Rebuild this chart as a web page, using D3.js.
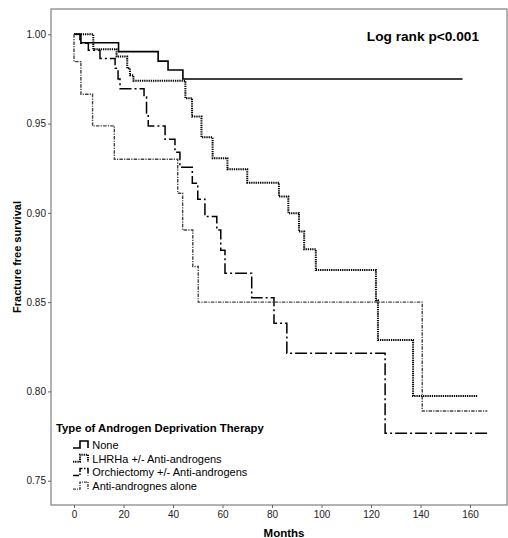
<!DOCTYPE html>
<html>
<head>
<meta charset="utf-8">
<script src="https://cdn.jsdelivr.net/npm/d3@7"></script>
<style>
  body { margin: 0; background: #fff; }
  svg text { font-family: "Liberation Sans", Arial, sans-serif; }
</style>
</head>
<body>
<div id="scene"></div>
<script>
// groups as in the legend (typo kept from the original)
var groups = ["None", "LHRHa +/- Anti-androgens", "Orchiectomy +/- Anti-androgens", "Anti-andrognes alone"];

// step curves: time (months) and survival from that time onward
var noneTimes = [0, 2.8, 18, 34, 38, 44, 157];
var noneSurv  = [1, 0.9953, 0.9903, 0.985, 0.980, 0.975, 0.975];

var lhrhTimes = [0, 7.8, 17.2, 21.5, 22.6, 24, 45, 47.7, 51.5, 56, 62, 70, 82.8, 86.6, 90.9, 93, 97.7, 122, 122.8, 137, 163];
var lhrhSurv  = [1, 0.9916, 0.9875, 0.981, 0.977, 0.974, 0.9642, 0.9539, 0.9423, 0.9306, 0.9244, 0.9169, 0.9091, 0.8998, 0.8895, 0.8796, 0.868, 0.851, 0.8288, 0.7975, 0.7975];

var orchTimes = [0, 2.4, 5.8, 10.5, 16.6, 17.8, 18.6, 28.3, 29.3, 30, 36.8, 40.8, 42.8, 47.8, 50, 52.9, 57.7, 59.3, 61, 71.8, 80.8, 86, 125.7, 167];
var orchSurv  = [1, 0.995, 0.991, 0.9865, 0.981, 0.975, 0.9695, 0.965, 0.955, 0.9487, 0.9412, 0.934, 0.9255, 0.9166, 0.9076, 0.8979, 0.8904, 0.879, 0.8662, 0.8525, 0.8382, 0.8214, 0.7766, 0.7766];

var antiTimes = [0, 0, 2.8, 7.5, 16.3, 41.9, 43.9, 48, 50.2, 140.7, 167];
var antiSurv  = [1, 0.9847, 0.9664, 0.9487, 0.930, 0.911, 0.8904, 0.870, 0.85, 0.789, 0.789];

var xTicks = [0, 20, 40, 60, 80, 100, 120, 140, 160];
var yTicks = [0.75, 0.80, 0.85, 0.90, 0.95, 1.00];

var ctx = {
  w: 508,
  h: 538,
  left: 51,
  right: 507,
  top: 9,
  bottom: 505
};

var styles = [
  { dash: null, legendDash: null, color: "#000", width: 1.6 },
  { dash: "1.3,0.9", legendDash: "1.3,0.9", color: "#000", width: 2 },
  { dash: "12,3,2,3", legendDash: "6,1.5,1.5,1.5", color: "#000", width: 1.5 },
  { dash: "3.5,1.2,1.2,1.2", legendDash: "3,1,1,1", color: "#444", width: 1.4 }
];

var series = [
  { times: noneTimes, surv: noneSurv },
  { times: lhrhTimes, surv: lhrhSurv },
  { times: orchTimes, surv: orchSurv },
  { times: antiTimes, surv: antiSurv }
];

var svg = d3.select("#scene").append("svg")
  .attr("width", ctx.w)
  .attr("height", ctx.h);

var x = d3.scaleLinear().domain([0, 160]).range([74, 470]);
var y = d3.scaleLinear().domain([0.75, 1.0]).range([480.7, 34.3]);

// frame
svg.append("rect")
  .attr("x", ctx.left).attr("y", ctx.top)
  .attr("width", ctx.right - ctx.left).attr("height", ctx.bottom - ctx.top)
  .style("fill", "none").style("stroke", "#8a8a8a").style("stroke-width", 1.3);

var yAxis = svg.append("g")
  .attr("transform", "translate(" + ctx.left + ",0)")
  .call(d3.axisLeft(y).tickValues(yTicks).tickFormat(d3.format(".2f")).tickSize(3).tickPadding(2));
var xAxis = svg.append("g")
  .attr("transform", "translate(0," + ctx.bottom + ")")
  .call(d3.axisBottom(x).tickValues(xTicks).tickSize(3).tickPadding(3));

[yAxis, xAxis].forEach(function(a) {
  a.select(".domain").remove();
  a.selectAll(".tick line").style("stroke", "#666");
  a.selectAll(".tick text").style("font-size", "10px").style("fill", "#222")
    .style("font-family", "'Liberation Sans', Arial, sans-serif");
});

// curves
var line = d3.line()
  .x(function(d) { return x(d[0]); })
  .y(function(d) { return y(d[1]); })
  .curve(d3.curveStepAfter);

series.forEach(function(s, i) {
  var pts = s.times.map(function(t, j) { return [t, s.surv[j]]; });
  svg.append("path")
    .datum(pts)
    .attr("d", line)
    .style("fill", "none")
    .style("stroke", styles[i].color)
    .style("stroke-width", styles[i].width)
    .style("stroke-dasharray", styles[i].dash);
});

// titles
svg.append("text")
  .attr("x", 284).attr("y", 536.5)
  .attr("text-anchor", "middle")
  .style("font-size", "11.5px").style("font-weight", "bold")
  .text("Months");

svg.append("text")
  .attr("transform", "translate(21,257) rotate(-90)")
  .attr("text-anchor", "middle")
  .style("font-size", "11px").style("font-weight", "bold")
  .text("Fracture free survival");

svg.append("text")
  .attr("x", 479).attr("y", 40.5)
  .attr("text-anchor", "end")
  .style("font-size", "13.7px").style("font-weight", "bold")
  .text("Log rank p<0.001");

// legend
var legend = svg.append("g");
legend.append("text")
  .attr("x", 56).attr("y", 431.5)
  .style("font-size", "11.3px").style("font-weight", "bold")
  .text("Type of Androgen Deprivation Therapy");

groups.forEach(function(g, i) {
  var cy = 445 + i * 13.7;
  legend.append("path")
    .attr("d", "M73," + (cy + 3) + "H80V" + (cy - 4) + "H88V" + (cy + 3))
    .style("fill", "none")
    .style("stroke", styles[i].color)
    .style("stroke-width", styles[i].width)
    .style("stroke-dasharray", styles[i].legendDash);
  legend.append("text")
    .attr("x", 92.3).attr("y", cy + 4)
    .style("font-size", "11px")
    .text(g);
});
</script>
</body>
</html>
